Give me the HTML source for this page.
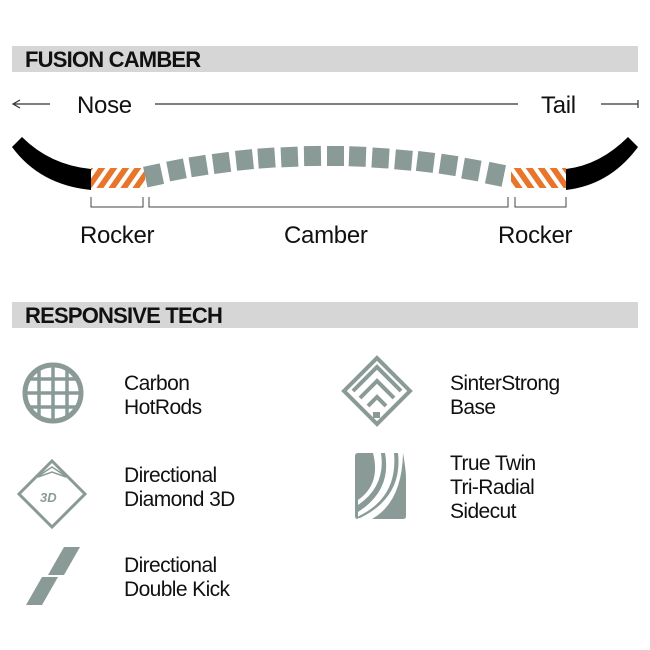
<!DOCTYPE html>
<html><head><meta charset="utf-8"><style>
html,body{margin:0;padding:0;background:#fff}
svg{display:block}
text{font-family:"Liberation Sans",sans-serif;fill:#111}
.h{font-weight:bold;font-size:22px;letter-spacing:-0.8px}
.n{font-family:"Liberation Sans",sans-serif;font-size:24px;letter-spacing:-0.3px}
.l{font-size:21px;letter-spacing:-0.6px}
</style></head><body>
<svg width="650" height="650" viewBox="0 0 650 650" xmlns="http://www.w3.org/2000/svg">
<defs>
<pattern id="st" width="12" height="20" patternUnits="userSpaceOnUse" patternTransform="skewX(-35)">
<rect width="12" height="20" fill="#fff"/><rect width="7" height="20" fill="#e8752a"/></pattern>
<pattern id="st2" width="12" height="20" patternUnits="userSpaceOnUse" patternTransform="skewX(35)">
<rect width="12" height="20" fill="#fff"/><rect width="7" height="20" fill="#e8752a"/></pattern>
</defs>
<rect x="12" y="46" width="626" height="26" fill="#d6d6d6"/>
<text class="h" x="25" y="67">FUSION CAMBER</text>
<line x1="14" y1="104" x2="50" y2="104" stroke="#333" stroke-width="1.2"/>
<path d="M20 100 L13 104 L20 108" fill="none" stroke="#333" stroke-width="1.2"/>
<text class="n" x="77" y="113">Nose</text>
<line x1="155" y1="104" x2="518" y2="104" stroke="#333" stroke-width="1.2"/>
<text class="n" x="541" y="113">Tail</text>
<line x1="601" y1="104" x2="638" y2="104" stroke="#333" stroke-width="1.2"/>
<line x1="638" y1="100" x2="638" y2="108" stroke="#333" stroke-width="1.2"/>
<path d="M12 147 L22 137 Q50 165 91 169 L91 190 Q40 185 12 147 Z" fill="#000"/>
<path d="M638 147 L628 137 Q600 165 566 169 L566 190 Q610 185 638 147 Z" fill="#000"/>
<rect x="91" y="168" width="54" height="20" fill="url(#st)"/>
<rect x="511" y="168" width="55" height="20" fill="url(#st2)"/>
<g fill="#8a9b97">
<rect x="145" y="165" width="17" height="21" transform="rotate(-12 153 175)"/>
<rect x="168" y="160" width="17" height="20" transform="rotate(-11 176 170)"/>
<rect x="190" y="156" width="17" height="20" transform="rotate(-9 199 166)"/>
<rect x="213" y="153" width="17" height="20" transform="rotate(-7.5 221 163)"/>
<rect x="236" y="150" width="17" height="20" transform="rotate(-6 244 160)"/>
<rect x="258" y="148" width="17" height="20" transform="rotate(-4 267 158)"/>
<rect x="281" y="147" width="17" height="20" transform="rotate(-2.5 290 157)"/>
<rect x="304" y="146" width="17" height="20" transform="rotate(-1 312 156)"/>
<rect x="327" y="146" width="17" height="20"/>
<rect x="349" y="146.6" width="17" height="20" transform="rotate(2 358 156)"/>
<rect x="372" y="148" width="17" height="20" transform="rotate(3.5 380 158)"/>
<rect x="395" y="150" width="17" height="20" transform="rotate(5 403 160)"/>
<rect x="417" y="152" width="17" height="20" transform="rotate(7 426 162)"/>
<rect x="440" y="155" width="17" height="20" transform="rotate(8.5 449 165)"/>
<rect x="463" y="159" width="17" height="21" transform="rotate(10 471 169)"/>
<rect x="487" y="163" width="17" height="22" transform="rotate(11.5 494 174)"/>
</g>
<g fill="none" stroke="#444" stroke-width="1">
<path d="M91 197 V207 H143 V197"/>
<path d="M149 197 V207 H508 V197"/>
<path d="M515 197 V207 H566 V197"/>
</g>
<text class="n" x="80" y="243">Rocker</text>
<text class="n" x="284" y="243">Camber</text>
<text class="n" x="498" y="243">Rocker</text>
<rect x="12" y="302" width="626" height="26" fill="#d6d6d6"/>
<text class="h" x="25" y="323">RESPONSIVE TECH</text>
<g fill="none" stroke="#8a9b97">
<circle cx="53" cy="393" r="28" stroke-width="5"/>
<g stroke-width="3.5"><path d="M27 379H79M25 393H81M27 407H79M39 367V419M53 365V421M67 367V419"/></g>
<path d="M52 461 L85 494 L52 527 L19 494 Z" stroke-width="3"/>
<path d="M30 483 L52 461 L74 483 M34 479 L52 467 L70 479 M38 477 L52 472 L66 477" stroke-width="1.5"/>
</g>
<text x="40" y="502" style="font-size:13px;font-weight:bold;font-style:italic;fill:#8a9b97">3D</text>
<g fill="#8a9b97">
<polygon points="64,547 80,547 64,575 48,575"/>
<polygon points="42,577 58,577 42,605 26,605"/>
</g>
<g fill="none" stroke="#8a9b97" stroke-width="4">
<path d="M377 358 L410 391 L377 424 L344 391 Z"/>
<path d="M353 391 L377 367 L401 391 M360 398 L377 381 L394 398 M368 406 L377 397 L386 406"/>
</g>
<rect x="373" y="412" width="7" height="6" fill="#8a9b97"/>
<g fill="#8a9b97">
<path d="M358 453 H373 Q381 484 358 500 Z"/>
<path d="M381 453 H385 Q392 490 358 512 V505 Q386 486 381 453 Z"/>
<path d="M394 453 H398 Q403 497 360 518 H358 V517 L359 516 Q398 497 394 453 Z"/>
<path d="M403 453 Q406 470 406 478 V516 Q406 519 403 519 H372 Q402 502 403 453 Z"/>
<path d="M358 453 Q355 453 355 456 V516 Q355 519 358 519 V453 Z"/>
</g>
<text class="l" x="124" y="390">Carbon</text>
<text class="l" x="124" y="414">HotRods</text>
<text class="l" x="124" y="482">Directional</text>
<text class="l" x="124" y="506">Diamond 3D</text>
<text class="l" x="124" y="572">Directional</text>
<text class="l" x="124" y="596">Double Kick</text>
<text class="l" x="450" y="390">SinterStrong</text>
<text class="l" x="450" y="414">Base</text>
<text class="l" x="450" y="470">True Twin</text>
<text class="l" x="450" y="494">Tri-Radial</text>
<text class="l" x="450" y="518">Sidecut</text>
</svg>
</body></html>
